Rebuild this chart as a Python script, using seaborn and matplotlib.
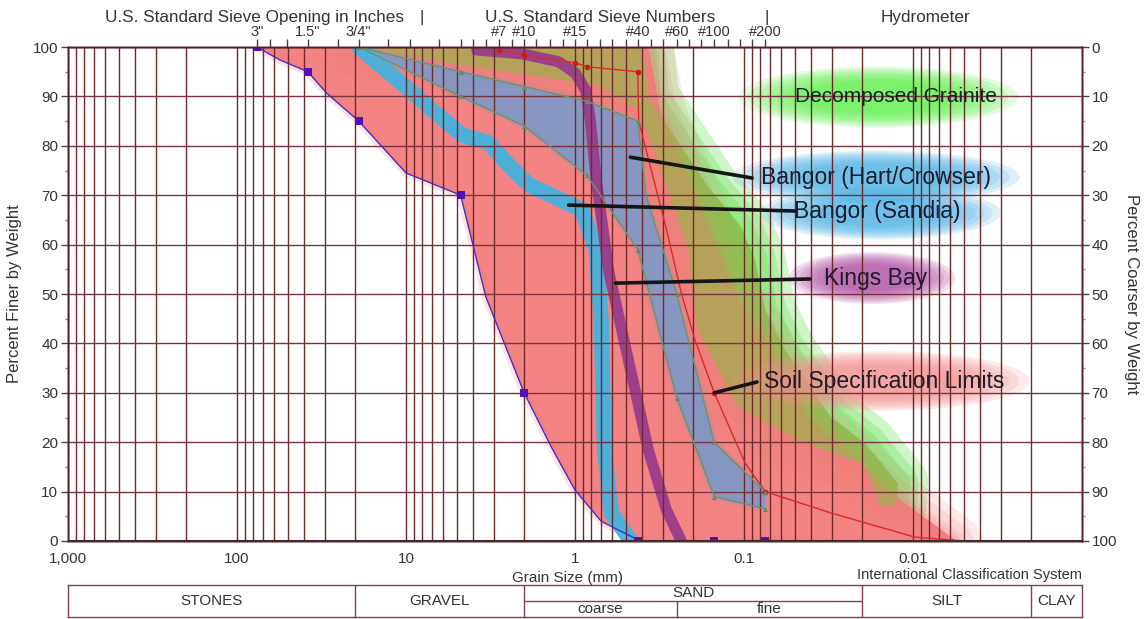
import numpy as np
import matplotlib
matplotlib.use("Agg")
import matplotlib.pyplot as plt
import seaborn as sns
from matplotlib.patches import Ellipse
from matplotlib.ticker import FixedLocator, LogLocator, MultipleLocator, NullLocator, NullFormatter

# ---------------- data (grain size in mm, percent finer) ----------------
coarse_mm = [76.2, 56, 38.1, 29.6, 19.05, 10.0, 4.75, 3.37, 2.0, 1.38, 1.0, 0.70, 0.44, 0.425, 0.15, 0.075]
coarse_pct = [100, 97.4, 95, 90.7, 85, 74.5, 70, 49.4, 30, 19, 10.3, 4, 0.5, 0, 0, 0]
coarse_mark_mm = [76.2, 38.1, 19.05, 4.75, 2.0, 0.425, 0.15, 0.075]
coarse_mark_pct = [100, 95, 85, 70, 30, 0, 0, 0]

fine_mm = [2.8, 2.0, 1.0, 0.85, 0.425, 0.42, 0.29, 0.235, 0.195, 0.15, 0.0986, 0.075, 0.0307, 0.0098, 0.005]
fine_pct = [99.4, 98.4, 96.8, 96, 95, 85, 63.6, 50.2, 40.7, 30, 15.8, 10, 5.7, 0.8, 0]
fine_mark_mm = [2.8, 2.0, 1.0, 0.85, 0.425, 0.15, 0.075]
fine_mark_pct = [99.4, 98.4, 96.8, 96, 95, 30, 10]

spec_right_mm = [0.0055, 0.0082, 0.0141, 0.0212, 0.0419, 0.0675, 0.107, 0.187, 0.313, 0.368]
spec_right_pct = [0, 4.3, 10.3, 16.4, 25.1, 38.7, 48.8, 69, 87.2, 100]

granite_mm = [20, 0.394, 0.368, 0.235, 0.163, 0.104, 0.086, 0.075, 0.0573, 0.0307, 0.0193, 0.0123,
              0.0126, 0.0156, 0.0193, 0.048, 0.108, 0.187, 0.214, 0.322, 0.422, 0.726, 4.9]
granite_pct = [100, 100, 89.9, 79.8, 71.7, 63.6, 56.9, 46.8, 38.7, 25.1, 19.8, 11.7,
               7.3, 7.3, 15.4, 20.4, 27.1, 42.7, 58.9, 77.1, 87.2, 92.3, 96.4]

hart_up_mm = [19.05, 4.75, 2.0, 0.85, 0.425, 0.38, 0.25, 0.15, 0.075]
hart_up_pct = [100, 95, 92, 89, 85, 70, 50, 20, 10]
hart_lo_mm = [19.05, 4.75, 2.0, 0.85, 0.425, 0.25, 0.15, 0.075]
hart_lo_pct = [100, 90, 84, 74, 59, 29, 9, 6.5]

sandia_mm = [19.05, 10.0, 6.65, 4.67, 3.24, 2.47, 1.88, 1.20, 0.91, 0.75, 0.70, 0.67, 0.61, 0.48]
sandia_pct = [100, 91.9, 86.6, 82.2, 80.6, 76.1, 72.1, 69, 67, 59, 44.7, 19, 5.7, 0.6]

kings_mm = [3.81, 2.04, 1.25, 0.994, 0.866, 0.81, 0.757, 0.634, 0.483, 0.368, 0.288, 0.235]
kings_pct = [99.4, 98.6, 97, 94.7, 91.3, 85, 74.5, 54.9, 36.6, 18.4, 6.3, 0]

x_ticks = [1000, 100, 10, 1, 0.1, 0.01]
x_labels = ["1,000", "100", "10", "1", "0.1", "0.01"]

sieve_mm = [76.2, 63.5, 50.8, 38.1, 25.4, 19.05, 12.7, 9.525, 6.35, 4.75, 4.0, 3.35, 2.8, 2.36, 2.0,
            1.7, 1.4, 1.18, 1.0, 0.85, 0.71, 0.6, 0.5, 0.425, 0.355, 0.3, 0.25, 0.212, 0.18, 0.15,
            0.125, 0.106, 0.09, 0.075]
sieve_labels = ['3"', '', '', '1.5"', '', '3/4"', '', '', '', '', '', '', '#7', '', '#10',
                '', '', '', '#15', '', '', '', '', '#40', '', '', '#60', '', '', '#100',
                '', '', '', '#200']

ics_names = ["STONES", "GRAVEL", "SAND", "SILT", "CLAY"]
ics_bounds = [1000, 20, 2, 0.02, 0.002, 0.001]
sand_split = 0.25

# ---------------- figure ----------------
sns.set_theme(style="white")
plt.rcParams["font.family"] = ["Liberation Sans", "DejaVu Sans"]

fig = plt.figure(figsize=(11.46, 6.19), dpi=100)
L, B, W, H = 0.05934, 0.12601, 0.88482, 0.79806
ax = fig.add_axes([L, B, W, H])
ax.set_xscale("log")
ax.set_xlim(1000, 0.001)
ax.set_ylim(0, 100)
ax.set_axisbelow(False)


def halo(xs, ys, color, z, widths, a):
    for w in widths:
        ax.fill(xs, ys, facecolor="none", edgecolor=color, linewidth=w,
                alpha=a, zorder=z, joinstyle="round")


def soft_edge(xs, ys, color, z, widths, a=0.16):
    for w in widths:
        ax.plot(xs, ys, color=color, lw=w, alpha=a, zorder=z,
                solid_capstyle="round", solid_joinstyle="round")


# vivid green fringe of the decomposed granite band (hidden under the pink where they overlap)
halo(granite_mm, granite_pct, "#55e040", 0.9, (44, 30, 18), 0.28)
ax.fill(granite_mm, granite_pct, facecolor="#66de52", edgecolor="none", alpha=0.78, zorder=0.9)

# soil specification region (pink)
cut = coarse_mm.index(0.425) + 1
spec_x = coarse_mm[:cut] + spec_right_mm
spec_y = coarse_pct[:cut] + spec_right_pct
halo(spec_x, spec_y, "#f47c7c", 1.0, (6,), 0.2)
ax.fill(spec_x, spec_y, facecolor="#f47c7c", edgecolor="none", alpha=0.95, zorder=1.0)
soft_edge(spec_right_mm, spec_right_pct, "#f47c7c", 1.0, (36, 24, 12))

# decomposed granite over the pink gives the olive tone
ax.fill(granite_mm, granite_pct, facecolor="#93b848", edgecolor="none", alpha=0.62, zorder=1.2)

# Bangor (Hart/Crowser) band
hart_x = hart_up_mm + hart_lo_mm[::-1]
hart_y = hart_up_pct + hart_lo_pct[::-1]
halo(hart_x, hart_y, "#7f98c8", 1.4, (5,), 0.18)
ax.fill(hart_x, hart_y, facecolor="#7f98c8", edgecolor="none", alpha=0.92, zorder=1.4)

# Bangor (Sandia) and Kings Bay thick curves
sns.lineplot(x=sandia_mm, y=sandia_pct, sort=False, estimator=None, ax=ax, color="#45b2df",
             lw=11, alpha=0.95, zorder=1.6, solid_capstyle="round", solid_joinstyle="round")
sns.lineplot(x=kings_mm, y=kings_pct, sort=False, estimator=None, ax=ax, color="#973a8c",
             lw=8, alpha=0.92, zorder=1.8, solid_capstyle="round", solid_joinstyle="round")

# thin limit lines
sns.lineplot(x=coarse_mm, y=coarse_pct, sort=False, estimator=None, ax=ax, color="#4a2cc4",
             lw=1.0, zorder=3)
ax.scatter(coarse_mark_mm, coarse_mark_pct, marker="s", s=30, color="#5210b4", zorder=3.2, lw=0)
sns.lineplot(x=fine_mm, y=fine_pct, sort=False, estimator=None, ax=ax, color="#e02828",
             lw=1.0, zorder=3)
ax.scatter(fine_mark_mm, fine_mark_pct, marker="o", s=16, color="#d01818", zorder=3.2, lw=0)
for xs, ys in ((hart_up_mm, hart_up_pct), (hart_lo_mm, hart_lo_pct)):
    sns.lineplot(x=xs, y=ys, sort=False, estimator=None, ax=ax, color="#6c9466", lw=1.0, zorder=3)
ax.scatter([m for m in hart_up_mm if m != 0.38], [p for m, p in zip(hart_up_mm, hart_up_pct) if m != 0.38],
           marker="^", s=14, color="#6a8a62", zorder=3.2, lw=0)
ax.scatter(hart_lo_mm, hart_lo_pct, marker="^", s=14, color="#6a8a62", zorder=3.2, lw=0)

ax.axhline(0, color="#333333", lw=2.2, zorder=3.5)

# grid
ax.xaxis.set_major_locator(FixedLocator(x_ticks))
ax.set_xticklabels(x_labels)
ax.xaxis.set_minor_locator(LogLocator(base=10, subs=np.arange(2, 10), numticks=100))
ax.xaxis.set_minor_formatter(NullFormatter())
ax.grid(True, which="both", axis="x", color="#6e2a2a", lw=1.0)
ax.set_yticks(range(0, 101, 10))
ax.yaxis.set_minor_locator(MultipleLocator(5))
ax.grid(True, which="major", axis="y", color="#7a3440", lw=1.0)
ax.tick_params(axis="x", which="both", length=0, pad=8, labelsize=11, labelcolor="#333333")
ax.tick_params(axis="y", which="major", direction="out", length=5, width=1, color="#444444",
               pad=2, labelsize=11, labelcolor="#333333", left=True)
ax.tick_params(axis="y", which="minor", direction="out", length=2.5, color="#888888", left=True)
ax.set_ylabel("Percent Finer by Weight", fontsize=12, color="#333333", labelpad=8)
ax.set_xlabel("")
for s in ax.spines.values():
    s.set_color("#552222")
    s.set_linewidth(1.0)

# label blobs
def blob(cx, cy, w, h, color):
    for k in np.linspace(1.15, 0.6, 8):
        ax.add_patch(Ellipse((cx, cy), w * k, h * k, transform=ax.transAxes,
                             facecolor=color, edgecolor="none", alpha=0.18, zorder=2.2))

blob(0.7988, 0.8988, 0.2396, 0.1073, "#5cf048")
blob(0.7968, 0.7368, 0.2465, 0.0931, "#4ab2e6")
blob(0.8008, 0.6640, 0.2070, 0.0931, "#4ab2e6")
blob(0.7929, 0.5324, 0.1430, 0.0911, "#b04aa2")
blob(0.8008, 0.3239, 0.2564, 0.1053, "#f59090")

txt = dict(transform=ax.transAxes, ha="center", va="center", zorder=6, color="#1c1c2c")
ax.text(0.8166, 0.8988, "Decomposed Grainite", fontsize=15, **txt)
ax.text(0.7968, 0.7368, "Bangor (Hart/Crowser)", fontsize=16.5, **txt)
ax.text(0.7978, 0.6660, "Bangor (Sandia)", fontsize=16.5, **txt)
ax.text(0.7968, 0.5304, "Kings Bay", fontsize=16.5, **txt)
ax.text(0.8047, 0.3219, "Soil Specification Limits", fontsize=16.5, **txt)

lead = dict(arrowstyle="-", color="#151515", lw=2.6, shrinkA=0, shrinkB=0)
for (mx, py), (fx, fy) in [((0.471, 77.7), (0.6746, 0.7348)),
                           ((1.09, 68.0), (0.7170, 0.6680)),
                           ((0.577, 52.2), (0.7318, 0.5304)),
                           ((0.15, 30.0), (0.6795, 0.3219))]:
    ax.annotate("", xy=(mx, py), xycoords="data", xytext=(fx, fy), textcoords="axes fraction",
                arrowprops=lead, zorder=5)

# top axis: sieve openings
axt = ax.twiny()
axt.set_xscale("log")
axt.set_xlim(1000, 0.001)
axt.xaxis.set_major_locator(FixedLocator(sieve_mm))
axt.set_xticklabels(sieve_labels)
axt.xaxis.set_minor_locator(NullLocator())
axt.tick_params(axis="x", direction="out", length=6, width=1, color="#444444", pad=0,
                labelsize=10.5, labelcolor="#333333")
axt.grid(False)

# right axis: percent coarser
axr = ax.twinx()
axr.set_ylim(100, 0)
axr.set_yticks(range(0, 101, 10))
axr.yaxis.set_minor_locator(MultipleLocator(5))
axr.tick_params(axis="y", which="major", direction="out", length=5, width=1, color="#444444",
                pad=2, labelsize=11, labelcolor="#333333", right=True)
axr.tick_params(axis="y", which="minor", direction="out", length=2.5, color="#888888", right=True)
axr.set_ylabel("Percent Coarser by Weight", fontsize=12, color="#333333", rotation=270, labelpad=16)
axr.grid(False)
for a in (axt, axr):
    for s in a.spines.values():
        s.set_color("#552222")
        s.set_linewidth(1.0)

# header texts
hdr = dict(ha="center", va="center", fontsize=12.3, color="#333333")
fig.text(0.2225, 0.9725, "U.S. Standard Sieve Opening in Inches", **hdr)
fig.text(0.3682, 0.9725, "|", **hdr)
fig.text(0.5236, 0.9725, "U.S. Standard Sieve Numbers", **hdr)
fig.text(0.6693, 0.9725, "|", **hdr)
fig.text(0.8072, 0.9725, "Hydrometer", **hdr)
fig.text(0.4956, 0.0662, "Grain Size (mm)", ha="center", va="center", fontsize=11, color="#333333")
fig.text(0.9440, 0.0715, "International Classification System", ha="right", va="center",
         fontsize=10.5, color="#333333")

# classification table
axb = fig.add_axes([L, 0.0032, W, (617 - 585) / 619])
axb.set_xscale("log")
axb.set_xlim(1000, 0.001)
axb.set_ylim(0, 2)
axb.set_xticks([])
axb.set_yticks([])
axb.xaxis.set_minor_locator(NullLocator())
axb.grid(False)
tcol = "#8a3a4a"
for s in axb.spines.values():
    s.set_color(tcol)
    s.set_linewidth(1.0)
for b in ics_bounds[1:-1]:
    axb.axvline(b, color=tcol, lw=1.0)
axb.hlines(1, ics_bounds[3], ics_bounds[2], color=tcol, lw=1.0)
axb.vlines(sand_split, 0, 1, color=tcol, lw=1.0)
tt = dict(ha="center", va="center", fontsize=11, color="#333333")
for name, a, b in zip(ics_names, ics_bounds[:-1], ics_bounds[1:]):
    yy = 1.5 if name == "SAND" else 1.0
    axb.text(np.sqrt(a * b), yy, name, **tt)
axb.text(np.sqrt(ics_bounds[2] * sand_split), 0.5, "coarse", **tt)
axb.text(np.sqrt(sand_split * ics_bounds[3]), 0.5, "fine", **tt)

fig.savefig("out.png", dpi=100)
